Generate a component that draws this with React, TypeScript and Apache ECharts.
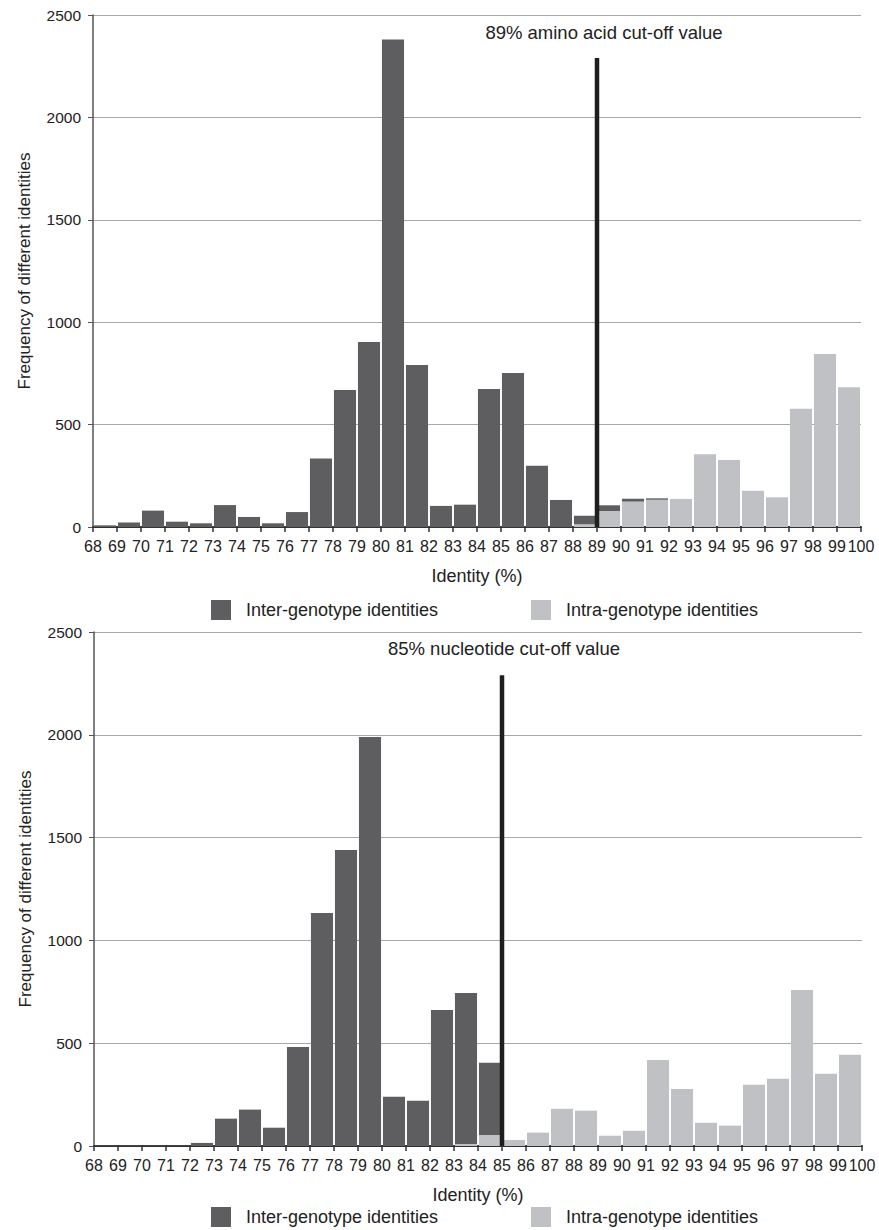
import React, { useEffect, useRef } from "react";
import * as echarts from "echarts";

const bins = ["68","69","70","71","72","73","74","75","76","77","78","79","80","81","82","83","84","85","86","87","88","89","90","91","92","93","94","95","96","97","98","99"];

// Top panel: amino acid identities
const aaInter = [8,22,80,26,18,107,49,18,73,335,669,903,2380,791,103,109,674,752,299,132,42,28,14,7,0,0,0,0,0,0,0,0];
const aaIntra = [0,0,0,0,0,0,0,0,0,0,0,0,0,0,0,0,0,0,0,0,13,78,124,133,137,355,327,177,145,578,845,682];
const aaCutoff = 89;

// Bottom panel: nucleotide identities
const ntInter = [2,2,2,2,15,133,177,89,482,1133,1440,1989,240,220,661,734,351,0,0,0,0,0,0,0,0,0,0,0,0,0,0,0];
const ntIntra = [0,0,0,0,0,0,0,0,0,0,0,0,0,0,0,10,54,29,65,181,172,50,74,418,277,113,99,298,327,759,352,444];
const ntCutoff = 85;

const cutLineTop = 2290;
const yTicks = { min: 0, max: 2500, interval: 500 };
const xRange = { min: 68, max: 100, interval: 1 };

const INTER = "Inter-genotype identities";
const INTRA = "Intra-genotype identities";
const DARK = "#5e5e60";
const LIGHT = "#c0c1c4";
const FONT = "Liberation Sans, Arial, sans-serif";

export default function App() {
  const ref = useRef<HTMLDivElement>(null);
  useEffect(() => {
    if (!ref.current) return;
    const chart = echarts.init(ref.current, null, { renderer: "svg" });
    const grids = [
      { left: 93, right: 18, top: 15, height: 512 },
      { left: 94, right: 17, top: 632, height: 514 },
    ];
    const catAxis = (gi: number) => ({
      type: "category", gridIndex: gi, data: bins, show: false, boundaryGap: true,
    });
    const valXAxis = (gi: number) => ({
      type: "value", gridIndex: gi, min: xRange.min, max: xRange.max, interval: xRange.interval,
      position: "bottom",
      name: "Identity (%)", nameLocation: "middle", nameGap: 40,
      nameTextStyle: { fontSize: 18, color: "#222", fontFamily: FONT },
      axisLine: { show: true, lineStyle: { color: "#333", width: 2 } },
      axisTick: { show: true, length: 5, lineStyle: { color: "#333", width: 1.5 } },
      axisLabel: { fontSize: 16, color: "#222", fontFamily: FONT, margin: 11, hideOverlap: false, showMinLabel: true, showMaxLabel: true },
      splitLine: { show: false },
    });
    const yAxis = (gi: number) => ({
      type: "value", gridIndex: gi, ...yTicks,
      name: "Frequency of different identities", nameLocation: "middle", nameGap: 60,
      nameTextStyle: { fontSize: 17, color: "#222", fontFamily: FONT },
      axisLine: { show: true, lineStyle: { color: "#555", width: 1.5 } },
      axisTick: { show: true, length: 5, lineStyle: { color: "#555" } },
      axisLabel: { fontSize: 15.5, color: "#222", fontFamily: FONT, margin: 12, formatter: (v: number) => String(v) },
      splitLine: { show: true, lineStyle: { color: "#a8a8a8", width: 1.2 } },
    });
    const bar = (name: string, data: number[], gi: number, color: string) => ({
      name, type: "bar", stack: "s" + gi, xAxisIndex: gi * 2, yAxisIndex: gi, data,
      barCategoryGap: "8%", itemStyle: { color },
    });
    const cut = (x: number, gi: number) => ({
      name: "cut-off", type: "line", xAxisIndex: gi * 2 + 1, yAxisIndex: gi,
      data: [[x, 0], [x, cutLineTop]], symbol: "none", lineStyle: { color: "#1e1e1e", width: 4.5 }, z: 5,
    });
    const legend = (name: string, left: number, top: number) => ({
      data: [name], left, top, padding: 0, itemWidth: 20, itemHeight: 20, icon: "rect",
      textStyle: { fontSize: 18, color: "#222", fontFamily: FONT, padding: [0, 0, 0, 10] },
      selectedMode: false,
    });
    chart.setOption({
      animation: false,
      textStyle: { fontFamily: FONT },
      grid: grids,
      xAxis: [catAxis(0), valXAxis(0), catAxis(1), valXAxis(1)],
      yAxis: [yAxis(0), yAxis(1)],
      legend: [
        legend(INTER, 211, 600), legend(INTRA, 531, 600),
        legend(INTER, 211, 1207), legend(INTRA, 531, 1207),
      ],
      graphic: [
        { type: "text", x: 604, y: 32, style: { text: "89% amino acid cut-off value", fontSize: 18.5, fill: "#222", fontFamily: FONT, textAlign: "center", textVerticalAlign: "middle" } },
        { type: "text", x: 504, y: 648, style: { text: "85% nucleotide cut-off value", fontSize: 18.5, fill: "#222", fontFamily: FONT, textAlign: "center", textVerticalAlign: "middle" } },
      ],
      series: [
        bar(INTRA, aaIntra, 0, LIGHT), bar(INTER, aaInter, 0, DARK), cut(aaCutoff, 0),
        bar(INTRA, ntIntra, 1, LIGHT), bar(INTER, ntInter, 1, DARK), cut(ntCutoff, 1),
      ],
    });
    return () => chart.dispose();
  }, []);
  return <div ref={ref} style={{ width: 879, height: 1230, position: "absolute", left: 0, top: 0 }} />;
}
